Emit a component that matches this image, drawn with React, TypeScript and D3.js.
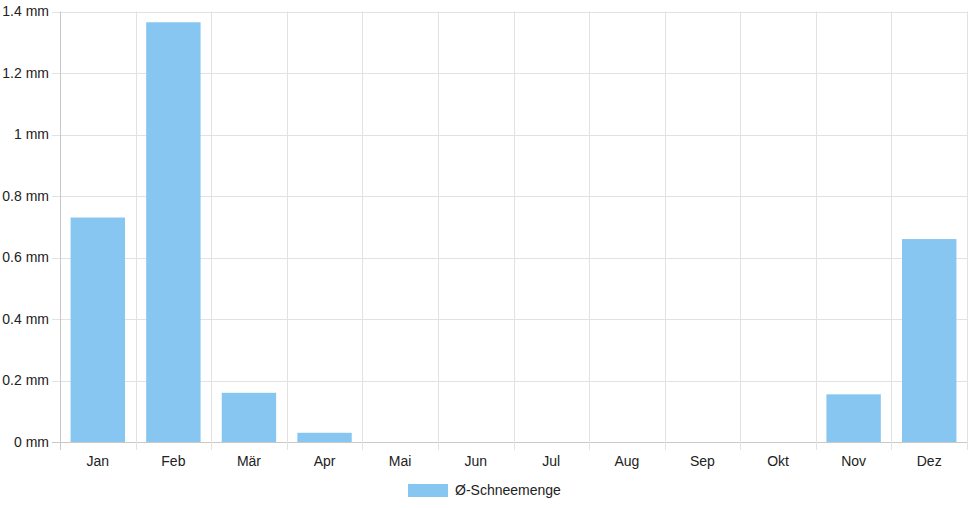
import { useEffect, useRef } from 'react';
import * as d3 from 'd3';

const months = ['Jan', 'Feb', 'Mär', 'Apr', 'Mai', 'Jun', 'Jul', 'Aug', 'Sep', 'Okt', 'Nov', 'Dez'];
const snow = [0.73, 1.365, 0.16, 0.03, 0, 0, 0, 0, 0, 0, 0.155, 0.66];
const yTicks = [0, 0.2, 0.4, 0.6, 0.8, 1, 1.2, 1.4];
const seriesName = 'Ø-Schneemenge';

export default function App() {
  const svgRef = useRef<SVGSVGElement>(null);

  useEffect(() => {
    if (!svgRef.current) return;
    const width = 968;
    const height = 508;
    const left = 60;
    const right = 967;
    const top = 11.5;
    const bottom = 442;
    const font = '"Liberation Sans", Arial, Helvetica, sans-serif';

    const svg = d3.select(svgRef.current);
    svg.selectAll('*').remove();
    svg.attr('width', width).attr('height', height);

    const x = d3.scaleBand<string>().domain(months).range([left, right]).padding(0);
    const y = d3.scaleLinear().domain([0, 1.4]).range([bottom, top]);

    const g = svg.append('g');

    // horizontal grid + left ticks
    g.selectAll('line.hgrid')
      .data(yTicks)
      .join('line')
      .attr('class', 'hgrid')
      .attr('x1', left - 8)
      .attr('x2', right)
      .attr('y1', (d) => Math.round(y(d)) + 0.5)
      .attr('y2', (d) => Math.round(y(d)) + 0.5)
      .attr('stroke', (d) => (d === 0 ? '#c8c8c8' : '#e2e2e2'))
      .attr('stroke-width', 1);

    // vertical grid at band edges
    const edges = months.map((m) => x(m) as number).concat([right]);
    g.selectAll('line.vgrid')
      .data(edges)
      .join('line')
      .attr('class', 'vgrid')
      .attr('x1', (d) => Math.round(d) + 0.5)
      .attr('x2', (d) => Math.round(d) + 0.5)
      .attr('y1', top)
      .attr('y2', bottom + 8)
      .attr('stroke', (d, i) => (i === 0 ? '#c8c8c8' : '#e2e2e2'))
      .attr('stroke-width', 1);

    // bars
    const bw = x.bandwidth() * 0.72;
    g.selectAll('rect.bar')
      .data(snow)
      .join('rect')
      .attr('class', 'bar')
      .attr('x', (_, i) => (x(months[i]) as number) + (x.bandwidth() - bw) / 2)
      .attr('width', bw)
      .attr('y', (d) => y(d))
      .attr('height', (d) => y(0) - y(d))
      .attr('fill', '#88c6f2');

    // y labels
    g.selectAll('text.ylab')
      .data(yTicks)
      .join('text')
      .attr('class', 'ylab')
      .attr('x', left - 11)
      .attr('y', (d) => y(d))
      .attr('dy', '0.35em')
      .attr('text-anchor', 'end')
      .attr('font-family', font)
      .attr('font-size', 14)
      .attr('fill', '#222')
      .text((d) => `${d} mm`);

    // x labels
    g.selectAll('text.xlab')
      .data(months)
      .join('text')
      .attr('class', 'xlab')
      .attr('x', (d) => (x(d) as number) + x.bandwidth() / 2)
      .attr('y', 466)
      .attr('text-anchor', 'middle')
      .attr('font-family', font)
      .attr('font-size', 14)
      .attr('fill', '#222')
      .text((d) => d);

    // legend
    const legend = svg.append('g');
    legend.append('rect')
      .attr('x', 408)
      .attr('y', 484)
      .attr('width', 40)
      .attr('height', 13)
      .attr('fill', '#88c6f2');
    legend.append('text')
      .attr('x', 455)
      .attr('y', 490.5)
      .attr('dy', '0.35em')
      .attr('font-family', font)
      .attr('font-size', 14)
      .attr('fill', '#222')
      .text(seriesName);
  }, []);

  return (
    <svg ref={svgRef} style={{ position: 'absolute', left: 0, top: 0, background: '#fff' }} />
  );
}
